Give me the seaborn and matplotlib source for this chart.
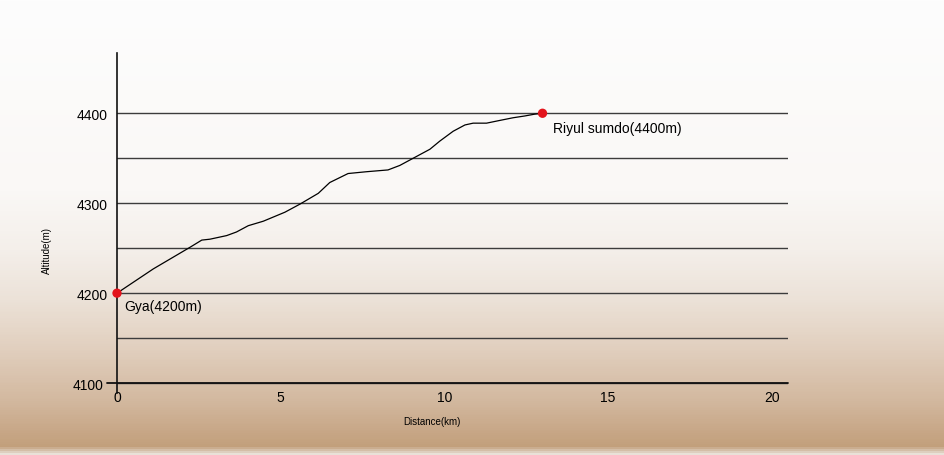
import numpy as np
import pandas as pd
import matplotlib
matplotlib.use("Agg")
import matplotlib.pyplot as plt
from matplotlib.colors import LinearSegmentedColormap
import seaborn as sns

# ---- data ----
dist_km = [0, 1.11, 1.67, 2.23, 2.59, 2.84, 3.35, 3.65, 4.01, 4.47, 5.13, 5.59,
           6.15, 6.50, 7.06, 7.62, 8.28, 8.64, 9.10, 9.56, 9.86, 10.27, 10.63,
           10.88, 11.29, 11.69, 12.10, 12.46, 12.76, 13.0]
altitude_m = [4200, 4227, 4239, 4251, 4259, 4260, 4264, 4268, 4275, 4280, 4290,
              4299, 4311, 4323, 4333, 4335, 4337, 4342, 4351, 4360, 4369, 4380,
              4387, 4389, 4389, 4392, 4395, 4397, 4399, 4400]
place_names = ["Gya(4200m)", "Riyul sumdo(4400m)"]
place_km = [0, 13.0]
place_alt = [4200, 4400]
x_ticks = [0, 5, 10, 15, 20]
y_ticks = [4100, 4200, 4300, 4400]
y_minor = [4150, 4250, 4350]

profile = pd.DataFrame({"km": dist_km, "alt": altitude_m})
places = pd.DataFrame({"name": place_names, "km": place_km, "alt": place_alt})

sns.set_style("white")
plt.rcParams["font.family"] = ["Liberation Sans", "DejaVu Sans"]

W, H = 944, 456
fig = plt.figure(figsize=(W / 100, H / 100), dpi=100)

# background gradient (white to tan)
bg = fig.add_axes([0, 0, 1, 1], zorder=-10)
stops = [(0.0, "#fdfdfd"), (0.42, "#faf8f6"), (0.55, "#f4efea"),
         (0.66, "#ece2d8"), (0.77, "#e1cfbe"), (0.88, "#d3b9a0"),
         (0.985, "#c29f7b"), (1.0, "#e9e1d8")]
cmap = LinearSegmentedColormap.from_list("bggrad", stops)
grad = np.linspace(0, 1, 456)[:, None]
bg.imshow(grad, aspect="auto", cmap=cmap, extent=[0, 1, 0, 1], vmin=0, vmax=1)
bg.set_axis_off()

ax = fig.add_axes([117 / W, 1 - 394 / H, (788 - 117) / W, (394 - 54) / H])
ax.set_facecolor("none")

ax.set_xlim(0, 20.5)
ax.set_ylim(4089, 4467)

ax.set_xticks(x_ticks)
ax.set_yticks(y_ticks)
ax.set_yticks(y_minor, minor=True)
ax.tick_params(axis="both", which="both", length=0, labelsize=10,
               colors="#000000")
ax.tick_params(axis="x", pad=-2)
ax.tick_params(axis="y", pad=6.5)
# the lowest label sits a little further left, clear of the baseline stub
ax.yaxis.get_major_ticks()[0].set_pad(9.5)

ax.grid(axis="y", which="both", color="#3c3c3c", linewidth=1.0)
ax.grid(axis="x", visible=False)

for s in ["top", "right", "bottom"]:
    ax.spines[s].set_visible(False)
ax.spines["left"].set_color("#111111")
ax.spines["left"].set_linewidth(1.2)
# x-axis baseline, with its small stub to the left of the y axis
ax.axhline(y_ticks[0], xmin=-10 / 671, xmax=1, color="#111111",
           linewidth=1.3, zorder=2, clip_on=False)

sns.lineplot(data=profile, x="km", y="alt", ax=ax, color="black",
             linewidth=0.9, zorder=3)
sns.scatterplot(data=places, x="km", y="alt", ax=ax, color="#e3141c",
                s=45, edgecolor="none", zorder=5, clip_on=False)

offsets = [(5.3, -9.6), (7.6, -10.8)]
for name, xk, ya, off in zip(place_names, place_km, place_alt, offsets):
    ax.annotate(name, xy=(xk, ya), xytext=off, textcoords="offset points",
                ha="left", va="center", fontsize=10, color="#000000")

ax.set_xlabel("Distance(km)", fontsize=7, va="center", color="#000000")
ax.set_ylabel("Altitude(m)", fontsize=7, va="center", color="#000000")
ax.xaxis.set_label_coords((432 - 117) / 671, (394 - 421.7) / 340)
ax.yaxis.set_label_coords((46.7 - 117) / 671, (394 - 251) / 340)

fig.savefig("out.png", dpi=100)
